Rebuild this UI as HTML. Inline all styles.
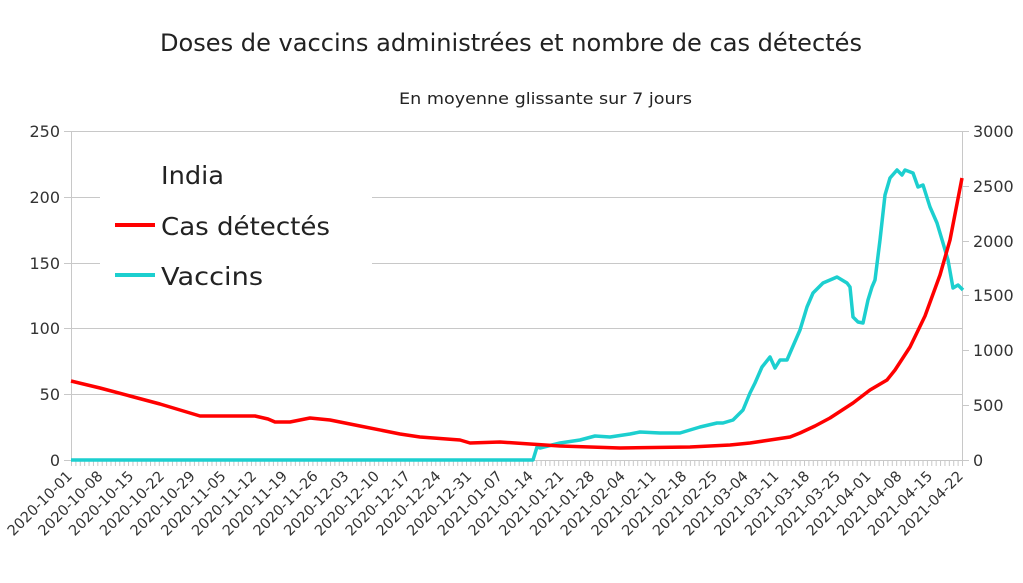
<!DOCTYPE html><html><head><style>body{margin:0;background:#fff}svg{font-family:"DejaVu Sans","Liberation Sans",sans-serif}</style></head><body>
<svg width="1023" height="578" xmlns="http://www.w3.org/2000/svg">
<defs><pattern id="mt" x="71" y="460" width="4.3892" height="10" patternUnits="userSpaceOnUse"><line x1="0.5" y1="0" x2="0.5" y2="6" stroke="#c8c8c8"/></pattern></defs>
<rect width="1023" height="578" fill="#fff"/>
<text x="160" y="51" font-size="24" textLength="702" lengthAdjust="spacingAndGlyphs" fill="#222">Doses de vaccins administrées et nombre de cas détectés</text>
<text x="399" y="104" font-size="16" textLength="293" lengthAdjust="spacingAndGlyphs" fill="#222">En moyenne glissante sur 7 jours</text>
<g stroke="#c8c8c8" stroke-width="1">
<line x1="71" y1="131.5" x2="962" y2="131.5"/><line x1="71" y1="197.5" x2="962" y2="197.5"/><line x1="71" y1="263.5" x2="962" y2="263.5"/><line x1="71" y1="328.5" x2="962" y2="328.5"/><line x1="71" y1="394.5" x2="962" y2="394.5"/><line x1="71" y1="460.5" x2="962" y2="460.5"/>
<line x1="71.5" y1="131" x2="71.5" y2="460"/><line x1="962.5" y1="131" x2="962.5" y2="460"/>
<line x1="64" y1="131.5" x2="71" y2="131.5"/><line x1="64" y1="197.5" x2="71" y2="197.5"/><line x1="64" y1="263.5" x2="71" y2="263.5"/><line x1="64" y1="328.5" x2="71" y2="328.5"/><line x1="64" y1="394.5" x2="71" y2="394.5"/><line x1="64" y1="460.5" x2="71" y2="460.5"/>
<line x1="962" y1="131.5" x2="969" y2="131.5"/><line x1="962" y1="186.5" x2="969" y2="186.5"/><line x1="962" y1="241.5" x2="969" y2="241.5"/><line x1="962" y1="295.5" x2="969" y2="295.5"/><line x1="962" y1="350.5" x2="969" y2="350.5"/><line x1="962" y1="405.5" x2="969" y2="405.5"/><line x1="962" y1="460.5" x2="969" y2="460.5"/>
</g>
<rect x="71" y="460" width="892" height="7" fill="url(#mt)"/>
<g font-size="16" fill="#333" text-anchor="end">
<text x="60" y="137">250</text><text x="60" y="203">200</text><text x="60" y="269">150</text><text x="60" y="334">100</text><text x="60" y="400">50</text><text x="60" y="466">0</text>
</g>
<g font-size="16" fill="#333" text-anchor="start">
<text x="973" y="137">3000</text><text x="973" y="192">2500</text><text x="973" y="247">2000</text><text x="973" y="301">1500</text><text x="973" y="356">1000</text><text x="973" y="411">500</text><text x="973" y="466">0</text>
</g>
<g font-size="14.5" fill="#333" text-anchor="end">
<text transform="translate(73,477) rotate(-45)">2020-10-01</text>
<text transform="translate(103.7,477) rotate(-45)">2020-10-08</text>
<text transform="translate(134.4,477) rotate(-45)">2020-10-15</text>
<text transform="translate(165.2,477) rotate(-45)">2020-10-22</text>
<text transform="translate(195.9,477) rotate(-45)">2020-10-29</text>
<text transform="translate(226.6,477) rotate(-45)">2020-11-05</text>
<text transform="translate(257.3,477) rotate(-45)">2020-11-12</text>
<text transform="translate(288.1,477) rotate(-45)">2020-11-19</text>
<text transform="translate(318.8,477) rotate(-45)">2020-11-26</text>
<text transform="translate(349.5,477) rotate(-45)">2020-12-03</text>
<text transform="translate(380.2,477) rotate(-45)">2020-12-10</text>
<text transform="translate(411,477) rotate(-45)">2020-12-17</text>
<text transform="translate(441.7,477) rotate(-45)">2020-12-24</text>
<text transform="translate(472.4,477) rotate(-45)">2020-12-31</text>
<text transform="translate(503.1,477) rotate(-45)">2021-01-07</text>
<text transform="translate(533.9,477) rotate(-45)">2021-01-14</text>
<text transform="translate(564.6,477) rotate(-45)">2021-01-21</text>
<text transform="translate(595.3,477) rotate(-45)">2021-01-28</text>
<text transform="translate(626,477) rotate(-45)">2021-02-04</text>
<text transform="translate(656.8,477) rotate(-45)">2021-02-11</text>
<text transform="translate(687.5,477) rotate(-45)">2021-02-18</text>
<text transform="translate(718.2,477) rotate(-45)">2021-02-25</text>
<text transform="translate(748.9,477) rotate(-45)">2021-03-04</text>
<text transform="translate(779.7,477) rotate(-45)">2021-03-11</text>
<text transform="translate(810.4,477) rotate(-45)">2021-03-18</text>
<text transform="translate(841.1,477) rotate(-45)">2021-03-25</text>
<text transform="translate(871.8,477) rotate(-45)">2021-04-01</text>
<text transform="translate(902.6,477) rotate(-45)">2021-04-08</text>
<text transform="translate(933.3,477) rotate(-45)">2021-04-15</text>
<text transform="translate(964,477) rotate(-45)">2021-04-22</text>
</g>
<rect x="100" y="148" width="272" height="144" fill="#fff"/>
<text x="161" y="184" font-size="25" textLength="63" lengthAdjust="spacingAndGlyphs" fill="#222">India</text>
<line x1="115" y1="225" x2="155" y2="225" stroke="#f00" stroke-width="4"/>
<text x="161" y="235" font-size="25" textLength="169" lengthAdjust="spacingAndGlyphs" fill="#222">Cas détectés</text>
<line x1="115" y1="275" x2="155" y2="275" stroke="#1ccfcf" stroke-width="4"/>
<text x="161" y="285" font-size="25" textLength="102" lengthAdjust="spacingAndGlyphs" fill="#222">Vaccins</text>
<polyline fill="none" stroke="#1ccfcf" stroke-width="3.5" stroke-linejoin="round" points="71,460 533,460 537,447 540,448 560,443 580,440 595,436 610,437 630,434 640,432 660,433 680,433 700,427 717,423 723,423 733,420 743,410 750,393 755,383 762,367 770,357 775,368 780,360 787,360 790,353 800,330 807,307 813,293 823,283 837,277 847,283 850,287 853,317 858,322 863,323 868,300 872,287 875,280 880,240 885,195 890,178 897,170 902,175 905,170 913,173 918,187 923,185 930,207 937,223 943,243 948,260 953,288 958,285 963,290"/>
<polyline fill="none" stroke="#f00" stroke-width="3.5" stroke-linejoin="round" points="71,381 100,388 130,396 160,404 190,413 200,416 215,416 255,416 268,419 275,422 290,422 310,418 330,420 360,426 400,434 420,437 460,440 470,443 500,442 530,444 560,446 620,448 690,447 730,445 750,443 770,440 790,437 800,433 815,426 830,418 853,403 870,390 887,380 895,370 910,347 925,316 940,275 950,240 962,178"/>
</svg></body></html>
